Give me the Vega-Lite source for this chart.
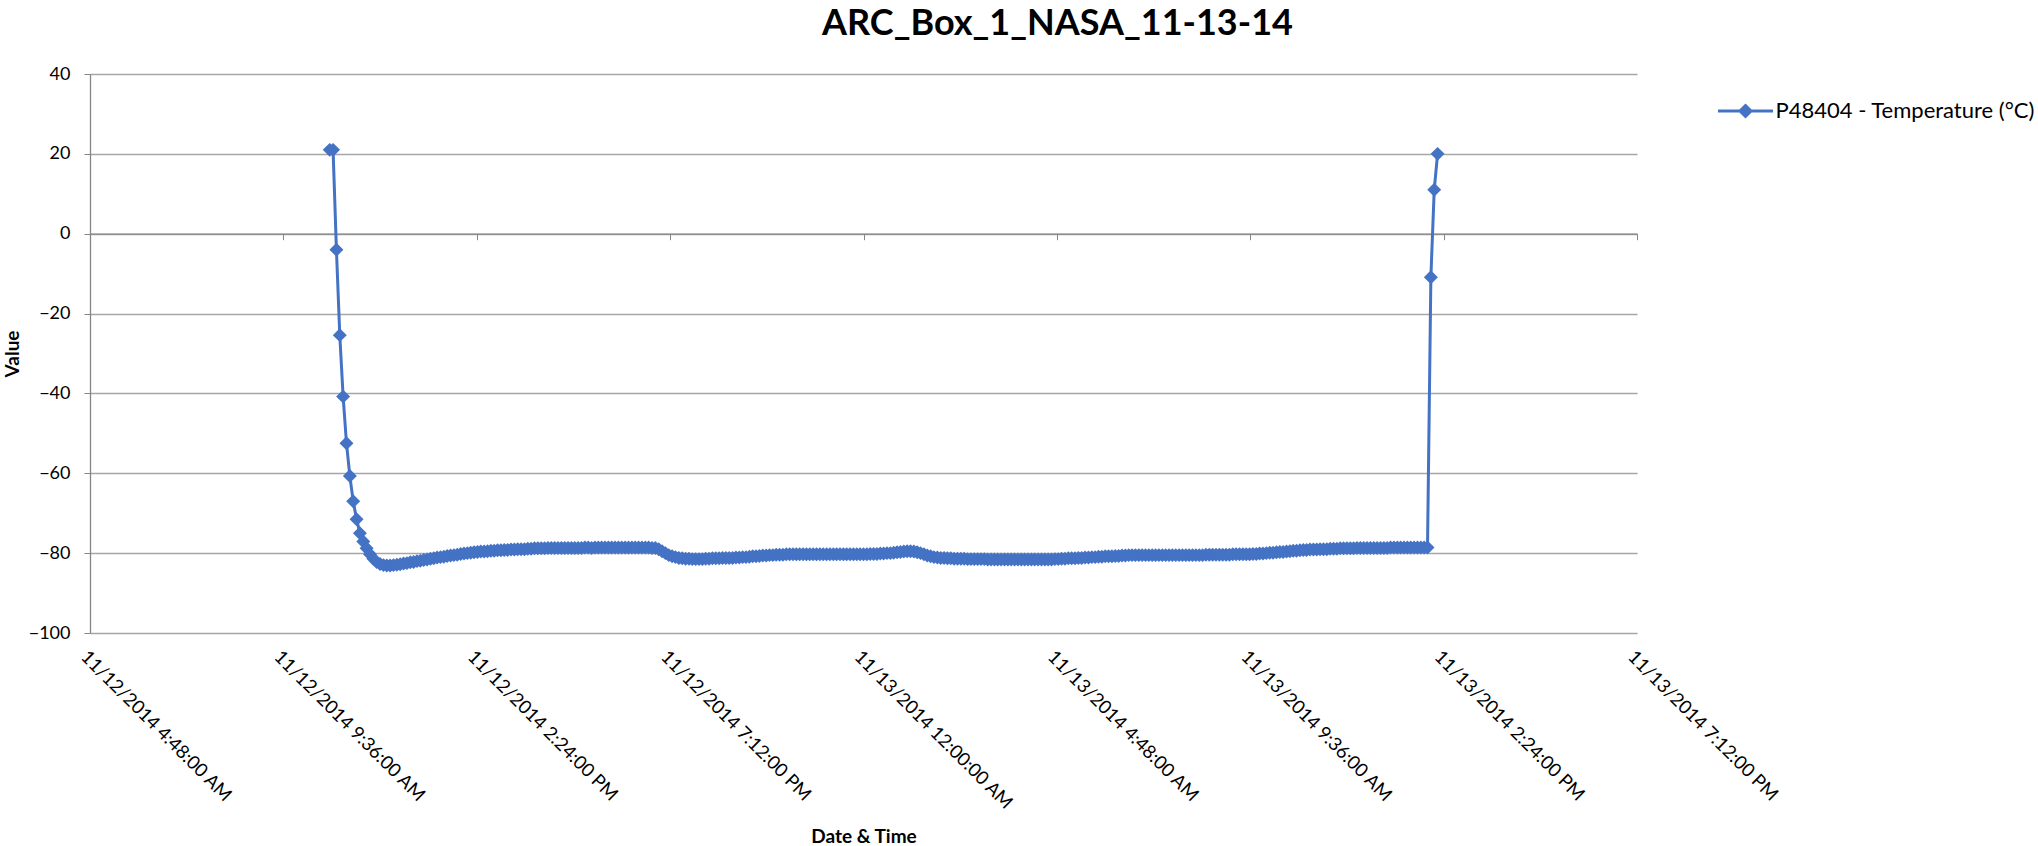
{
"$schema": "https://vega.github.io/schema/vega-lite/v6.json",
"width": 1547, "height": 559,
"autosize": {"type": "none"},
"padding": {"left": 90, "top": 74, "right": 401, "bottom": 213},
"background": "white",
"title": {"text": "ARC_Box_1_NASA_11-13-14", "font": "Lato", "fontSize": 36, "fontWeight": "bold", "color": "#000000", "anchor": "middle", "frame": "group", "dx": 194, "offset": -6, "baseline": "alphabetic"},
"config": {"view": {"stroke": null}},
"data": {"values": [
{"t":"2014-11-12T10:45","v":21.0},{"t":"2014-11-12T10:50","v":21.0},{"t":"2014-11-12T10:55","v":-4.0},
{"t":"2014-11-12T11:00","v":-25.4},{"t":"2014-11-12T11:05","v":-40.8},{"t":"2014-11-12T11:10","v":-52.5},{"t":"2014-11-12T11:15","v":-60.7},{"t":"2014-11-12T11:20","v":-67.0},{"t":"2014-11-12T11:25","v":-71.5},{"t":"2014-11-12T11:30","v":-75.0},{"t":"2014-11-12T11:35","v":-77.1},{"t":"2014-11-12T11:40","v":-78.8},{"t":"2014-11-12T11:45","v":-80.3},{"t":"2014-11-12T11:50","v":-81.4},{"t":"2014-11-12T11:55","v":-82.2},
{"t":"2014-11-12T12:00","v":-82.7},{"t":"2014-11-12T12:05","v":-83.0},{"t":"2014-11-12T12:10","v":-83.1},{"t":"2014-11-12T12:15","v":-83.1},{"t":"2014-11-12T12:20","v":-83.0},{"t":"2014-11-12T12:25","v":-82.9},{"t":"2014-11-12T12:30","v":-82.8},{"t":"2014-11-12T12:35","v":-82.6},{"t":"2014-11-12T12:40","v":-82.5},{"t":"2014-11-12T12:45","v":-82.3},{"t":"2014-11-12T12:50","v":-82.2},{"t":"2014-11-12T12:55","v":-82.0},
{"t":"2014-11-12T13:00","v":-81.9},{"t":"2014-11-12T13:05","v":-81.7},{"t":"2014-11-12T13:10","v":-81.6},{"t":"2014-11-12T13:15","v":-81.4},{"t":"2014-11-12T13:20","v":-81.3},{"t":"2014-11-12T13:25","v":-81.1},{"t":"2014-11-12T13:30","v":-81.0},{"t":"2014-11-12T13:35","v":-80.9},{"t":"2014-11-12T13:40","v":-80.7},{"t":"2014-11-12T13:45","v":-80.6},{"t":"2014-11-12T13:50","v":-80.5},{"t":"2014-11-12T13:55","v":-80.4},
{"t":"2014-11-12T14:00","v":-80.2},{"t":"2014-11-12T14:05","v":-80.1},{"t":"2014-11-12T14:10","v":-80.0},{"t":"2014-11-12T14:15","v":-79.9},{"t":"2014-11-12T14:20","v":-79.8},{"t":"2014-11-12T14:25","v":-79.7},{"t":"2014-11-12T14:30","v":-79.6},{"t":"2014-11-12T14:35","v":-79.6},{"t":"2014-11-12T14:40","v":-79.5},{"t":"2014-11-12T14:45","v":-79.4},{"t":"2014-11-12T14:50","v":-79.4},{"t":"2014-11-12T14:55","v":-79.3},
{"t":"2014-11-12T15:00","v":-79.3},{"t":"2014-11-12T15:05","v":-79.2},{"t":"2014-11-12T15:10","v":-79.2},{"t":"2014-11-12T15:15","v":-79.1},{"t":"2014-11-12T15:20","v":-79.1},{"t":"2014-11-12T15:25","v":-79.0},{"t":"2014-11-12T15:30","v":-79.0},{"t":"2014-11-12T15:35","v":-79.0},{"t":"2014-11-12T15:40","v":-78.9},{"t":"2014-11-12T15:45","v":-78.9},{"t":"2014-11-12T15:50","v":-78.8},{"t":"2014-11-12T15:55","v":-78.8},
{"t":"2014-11-12T16:00","v":-78.8},{"t":"2014-11-12T16:05","v":-78.8},{"t":"2014-11-12T16:10","v":-78.7},{"t":"2014-11-12T16:15","v":-78.7},{"t":"2014-11-12T16:20","v":-78.7},{"t":"2014-11-12T16:25","v":-78.7},{"t":"2014-11-12T16:30","v":-78.7},{"t":"2014-11-12T16:35","v":-78.7},{"t":"2014-11-12T16:40","v":-78.7},{"t":"2014-11-12T16:45","v":-78.7},{"t":"2014-11-12T16:50","v":-78.7},{"t":"2014-11-12T16:55","v":-78.7},
{"t":"2014-11-12T17:00","v":-78.7},{"t":"2014-11-12T17:05","v":-78.6},{"t":"2014-11-12T17:10","v":-78.6},{"t":"2014-11-12T17:15","v":-78.7},{"t":"2014-11-12T17:20","v":-78.6},{"t":"2014-11-12T17:25","v":-78.6},{"t":"2014-11-12T17:30","v":-78.6},{"t":"2014-11-12T17:35","v":-78.6},{"t":"2014-11-12T17:40","v":-78.6},{"t":"2014-11-12T17:45","v":-78.6},{"t":"2014-11-12T17:50","v":-78.6},{"t":"2014-11-12T17:55","v":-78.6},
{"t":"2014-11-12T18:00","v":-78.6},{"t":"2014-11-12T18:05","v":-78.6},{"t":"2014-11-12T18:10","v":-78.6},{"t":"2014-11-12T18:15","v":-78.6},{"t":"2014-11-12T18:20","v":-78.6},{"t":"2014-11-12T18:25","v":-78.6},{"t":"2014-11-12T18:30","v":-78.6},{"t":"2014-11-12T18:35","v":-78.6},{"t":"2014-11-12T18:40","v":-78.6},{"t":"2014-11-12T18:45","v":-78.7},{"t":"2014-11-12T18:50","v":-78.7},{"t":"2014-11-12T18:55","v":-79.0},
{"t":"2014-11-12T19:00","v":-79.5},{"t":"2014-11-12T19:05","v":-80.0},{"t":"2014-11-12T19:10","v":-80.5},{"t":"2014-11-12T19:15","v":-80.8},{"t":"2014-11-12T19:20","v":-81.0},{"t":"2014-11-12T19:25","v":-81.2},{"t":"2014-11-12T19:30","v":-81.3},{"t":"2014-11-12T19:35","v":-81.4},{"t":"2014-11-12T19:40","v":-81.4},{"t":"2014-11-12T19:45","v":-81.5},{"t":"2014-11-12T19:50","v":-81.5},{"t":"2014-11-12T19:55","v":-81.5},
{"t":"2014-11-12T20:00","v":-81.5},{"t":"2014-11-12T20:05","v":-81.4},{"t":"2014-11-12T20:10","v":-81.4},{"t":"2014-11-12T20:15","v":-81.3},{"t":"2014-11-12T20:20","v":-81.3},{"t":"2014-11-12T20:25","v":-81.3},{"t":"2014-11-12T20:30","v":-81.2},{"t":"2014-11-12T20:35","v":-81.2},{"t":"2014-11-12T20:40","v":-81.2},{"t":"2014-11-12T20:45","v":-81.2},{"t":"2014-11-12T20:50","v":-81.1},{"t":"2014-11-12T20:55","v":-81.1},
{"t":"2014-11-12T21:00","v":-81.0},{"t":"2014-11-12T21:05","v":-81.0},{"t":"2014-11-12T21:10","v":-80.9},{"t":"2014-11-12T21:15","v":-80.8},{"t":"2014-11-12T21:20","v":-80.8},{"t":"2014-11-12T21:25","v":-80.7},{"t":"2014-11-12T21:30","v":-80.6},{"t":"2014-11-12T21:35","v":-80.6},{"t":"2014-11-12T21:40","v":-80.5},{"t":"2014-11-12T21:45","v":-80.5},{"t":"2014-11-12T21:50","v":-80.4},{"t":"2014-11-12T21:55","v":-80.4},
{"t":"2014-11-12T22:00","v":-80.4},{"t":"2014-11-12T22:05","v":-80.3},{"t":"2014-11-12T22:10","v":-80.3},{"t":"2014-11-12T22:15","v":-80.3},{"t":"2014-11-12T22:20","v":-80.3},{"t":"2014-11-12T22:25","v":-80.3},{"t":"2014-11-12T22:30","v":-80.3},{"t":"2014-11-12T22:35","v":-80.3},{"t":"2014-11-12T22:40","v":-80.3},{"t":"2014-11-12T22:45","v":-80.3},{"t":"2014-11-12T22:50","v":-80.3},{"t":"2014-11-12T22:55","v":-80.3},
{"t":"2014-11-12T23:00","v":-80.3},{"t":"2014-11-12T23:05","v":-80.3},{"t":"2014-11-12T23:10","v":-80.3},{"t":"2014-11-12T23:15","v":-80.3},{"t":"2014-11-12T23:20","v":-80.3},{"t":"2014-11-12T23:25","v":-80.3},{"t":"2014-11-12T23:30","v":-80.3},{"t":"2014-11-12T23:35","v":-80.3},{"t":"2014-11-12T23:40","v":-80.3},{"t":"2014-11-12T23:45","v":-80.3},{"t":"2014-11-12T23:50","v":-80.3},{"t":"2014-11-12T23:55","v":-80.3},
{"t":"2014-11-13T00:00","v":-80.3},{"t":"2014-11-13T00:05","v":-80.3},{"t":"2014-11-13T00:10","v":-80.2},{"t":"2014-11-13T00:15","v":-80.2},{"t":"2014-11-13T00:20","v":-80.2},{"t":"2014-11-13T00:25","v":-80.1},{"t":"2014-11-13T00:30","v":-80.1},{"t":"2014-11-13T00:35","v":-80.0},{"t":"2014-11-13T00:40","v":-80.0},{"t":"2014-11-13T00:45","v":-79.9},{"t":"2014-11-13T00:50","v":-79.8},{"t":"2014-11-13T00:55","v":-79.7},
{"t":"2014-11-13T01:00","v":-79.6},{"t":"2014-11-13T01:05","v":-79.5},{"t":"2014-11-13T01:10","v":-79.5},{"t":"2014-11-13T01:15","v":-79.6},{"t":"2014-11-13T01:20","v":-79.8},{"t":"2014-11-13T01:25","v":-80.0},{"t":"2014-11-13T01:30","v":-80.3},{"t":"2014-11-13T01:35","v":-80.6},{"t":"2014-11-13T01:40","v":-80.8},{"t":"2014-11-13T01:45","v":-81.0},{"t":"2014-11-13T01:50","v":-81.1},{"t":"2014-11-13T01:55","v":-81.2},
{"t":"2014-11-13T02:00","v":-81.2},{"t":"2014-11-13T02:05","v":-81.3},{"t":"2014-11-13T02:10","v":-81.3},{"t":"2014-11-13T02:15","v":-81.4},{"t":"2014-11-13T02:20","v":-81.4},{"t":"2014-11-13T02:25","v":-81.4},{"t":"2014-11-13T02:30","v":-81.4},{"t":"2014-11-13T02:35","v":-81.5},{"t":"2014-11-13T02:40","v":-81.5},{"t":"2014-11-13T02:45","v":-81.5},{"t":"2014-11-13T02:50","v":-81.5},{"t":"2014-11-13T02:55","v":-81.5},
{"t":"2014-11-13T03:00","v":-81.5},{"t":"2014-11-13T03:05","v":-81.6},{"t":"2014-11-13T03:10","v":-81.6},{"t":"2014-11-13T03:15","v":-81.6},{"t":"2014-11-13T03:20","v":-81.6},{"t":"2014-11-13T03:25","v":-81.6},{"t":"2014-11-13T03:30","v":-81.6},{"t":"2014-11-13T03:35","v":-81.6},{"t":"2014-11-13T03:40","v":-81.6},{"t":"2014-11-13T03:45","v":-81.6},{"t":"2014-11-13T03:50","v":-81.6},{"t":"2014-11-13T03:55","v":-81.6},
{"t":"2014-11-13T04:00","v":-81.6},{"t":"2014-11-13T04:05","v":-81.6},{"t":"2014-11-13T04:10","v":-81.6},{"t":"2014-11-13T04:15","v":-81.6},{"t":"2014-11-13T04:20","v":-81.6},{"t":"2014-11-13T04:25","v":-81.6},{"t":"2014-11-13T04:30","v":-81.6},{"t":"2014-11-13T04:35","v":-81.6},{"t":"2014-11-13T04:40","v":-81.6},{"t":"2014-11-13T04:45","v":-81.5},{"t":"2014-11-13T04:50","v":-81.5},{"t":"2014-11-13T04:55","v":-81.4},
{"t":"2014-11-13T05:00","v":-81.4},{"t":"2014-11-13T05:05","v":-81.3},{"t":"2014-11-13T05:10","v":-81.3},{"t":"2014-11-13T05:15","v":-81.3},{"t":"2014-11-13T05:20","v":-81.2},{"t":"2014-11-13T05:25","v":-81.2},{"t":"2014-11-13T05:30","v":-81.1},{"t":"2014-11-13T05:35","v":-81.1},{"t":"2014-11-13T05:40","v":-81.0},{"t":"2014-11-13T05:45","v":-81.0},{"t":"2014-11-13T05:50","v":-80.9},{"t":"2014-11-13T05:55","v":-80.9},
{"t":"2014-11-13T06:00","v":-80.8},{"t":"2014-11-13T06:05","v":-80.8},{"t":"2014-11-13T06:10","v":-80.8},{"t":"2014-11-13T06:15","v":-80.7},{"t":"2014-11-13T06:20","v":-80.7},{"t":"2014-11-13T06:25","v":-80.6},{"t":"2014-11-13T06:30","v":-80.6},{"t":"2014-11-13T06:35","v":-80.5},{"t":"2014-11-13T06:40","v":-80.5},{"t":"2014-11-13T06:45","v":-80.5},{"t":"2014-11-13T06:50","v":-80.5},{"t":"2014-11-13T06:55","v":-80.5},
{"t":"2014-11-13T07:00","v":-80.5},{"t":"2014-11-13T07:05","v":-80.5},{"t":"2014-11-13T07:10","v":-80.5},{"t":"2014-11-13T07:15","v":-80.5},{"t":"2014-11-13T07:20","v":-80.5},{"t":"2014-11-13T07:25","v":-80.5},{"t":"2014-11-13T07:30","v":-80.5},{"t":"2014-11-13T07:35","v":-80.5},{"t":"2014-11-13T07:40","v":-80.5},{"t":"2014-11-13T07:45","v":-80.5},{"t":"2014-11-13T07:50","v":-80.5},{"t":"2014-11-13T07:55","v":-80.5},
{"t":"2014-11-13T08:00","v":-80.5},{"t":"2014-11-13T08:05","v":-80.5},{"t":"2014-11-13T08:10","v":-80.5},{"t":"2014-11-13T08:15","v":-80.5},{"t":"2014-11-13T08:20","v":-80.5},{"t":"2014-11-13T08:25","v":-80.5},{"t":"2014-11-13T08:30","v":-80.4},{"t":"2014-11-13T08:35","v":-80.4},{"t":"2014-11-13T08:40","v":-80.4},{"t":"2014-11-13T08:45","v":-80.4},{"t":"2014-11-13T08:50","v":-80.4},{"t":"2014-11-13T08:55","v":-80.4},
{"t":"2014-11-13T09:00","v":-80.4},{"t":"2014-11-13T09:05","v":-80.4},{"t":"2014-11-13T09:10","v":-80.3},{"t":"2014-11-13T09:15","v":-80.3},{"t":"2014-11-13T09:20","v":-80.3},{"t":"2014-11-13T09:25","v":-80.3},{"t":"2014-11-13T09:30","v":-80.3},{"t":"2014-11-13T09:35","v":-80.3},{"t":"2014-11-13T09:40","v":-80.2},{"t":"2014-11-13T09:45","v":-80.2},{"t":"2014-11-13T09:50","v":-80.1},{"t":"2014-11-13T09:55","v":-80.1},
{"t":"2014-11-13T10:00","v":-80.0},{"t":"2014-11-13T10:05","v":-79.9},{"t":"2014-11-13T10:10","v":-79.9},{"t":"2014-11-13T10:15","v":-79.8},{"t":"2014-11-13T10:20","v":-79.7},{"t":"2014-11-13T10:25","v":-79.7},{"t":"2014-11-13T10:30","v":-79.6},{"t":"2014-11-13T10:35","v":-79.5},{"t":"2014-11-13T10:40","v":-79.4},{"t":"2014-11-13T10:45","v":-79.4},{"t":"2014-11-13T10:50","v":-79.3},{"t":"2014-11-13T10:55","v":-79.2},
{"t":"2014-11-13T11:00","v":-79.2},{"t":"2014-11-13T11:05","v":-79.1},{"t":"2014-11-13T11:10","v":-79.1},{"t":"2014-11-13T11:15","v":-79.1},{"t":"2014-11-13T11:20","v":-79.0},{"t":"2014-11-13T11:25","v":-79.0},{"t":"2014-11-13T11:30","v":-79.0},{"t":"2014-11-13T11:35","v":-78.9},{"t":"2014-11-13T11:40","v":-78.9},{"t":"2014-11-13T11:45","v":-78.9},{"t":"2014-11-13T11:50","v":-78.8},{"t":"2014-11-13T11:55","v":-78.8},
{"t":"2014-11-13T12:00","v":-78.8},{"t":"2014-11-13T12:05","v":-78.8},{"t":"2014-11-13T12:10","v":-78.8},{"t":"2014-11-13T12:15","v":-78.7},{"t":"2014-11-13T12:20","v":-78.7},{"t":"2014-11-13T12:25","v":-78.7},{"t":"2014-11-13T12:30","v":-78.7},{"t":"2014-11-13T12:35","v":-78.7},{"t":"2014-11-13T12:40","v":-78.7},{"t":"2014-11-13T12:45","v":-78.7},{"t":"2014-11-13T12:50","v":-78.7},{"t":"2014-11-13T12:55","v":-78.7},
{"t":"2014-11-13T13:00","v":-78.7},{"t":"2014-11-13T13:05","v":-78.6},{"t":"2014-11-13T13:10","v":-78.6},{"t":"2014-11-13T13:15","v":-78.6},{"t":"2014-11-13T13:20","v":-78.6},{"t":"2014-11-13T13:25","v":-78.6},{"t":"2014-11-13T13:30","v":-78.6},{"t":"2014-11-13T13:35","v":-78.6},{"t":"2014-11-13T13:40","v":-78.6},{"t":"2014-11-13T13:45","v":-78.6},{"t":"2014-11-13T13:50","v":-78.6},{"t":"2014-11-13T13:55","v":-78.6},
{"t":"2014-11-13T14:00","v":-78.6},{"t":"2014-11-13T14:05","v":-10.9},{"t":"2014-11-13T14:10","v":11.0},{"t":"2014-11-13T14:15","v":20.0}
]},
"layer": [
{
"mark": {"type": "line", "strokeWidth": 3},
"encoding": {
"x": {"field": "t", "type": "temporal", "title": "Date & Time",
"scale": {"domain": [{"year": 2014, "month": 11, "date": 12, "hours": 4, "minutes": 48}, {"year": 2014, "month": 11, "date": 13, "hours": 19, "minutes": 12}], "nice": false},
"axis": {"orient": "bottom", "values": [
{"year": 2014, "month": 11, "date": 12, "hours": 4, "minutes": 48},
{"year": 2014, "month": 11, "date": 12, "hours": 9, "minutes": 36},
{"year": 2014, "month": 11, "date": 12, "hours": 14, "minutes": 24},
{"year": 2014, "month": 11, "date": 12, "hours": 19, "minutes": 12},
{"year": 2014, "month": 11, "date": 13, "hours": 0, "minutes": 0},
{"year": 2014, "month": 11, "date": 13, "hours": 4, "minutes": 48},
{"year": 2014, "month": 11, "date": 13, "hours": 9, "minutes": 36},
{"year": 2014, "month": 11, "date": 13, "hours": 14, "minutes": 24},
{"year": 2014, "month": 11, "date": 13, "hours": 19, "minutes": 12}],
"format": "%m/%d/%Y %-I:%M:%S %p", "labelAngle": 45, "labelAlign": "left", "labelBaseline": "top", "labelPadding": 14,
"labelFont": "Lato", "labelFontSize": 18.5, "labelColor": "#000000", "labelOverlap": false, "labelFlush": false, "labelBound": false, "labelLimit": 0,
"domain": false, "ticks": false, "grid": false,
"titleFont": "Lato", "titleFontSize": 19, "titleFontWeight": "bold", "titleColor": "#000000", "titleBaseline": "alphabetic", "titleY": 209}},
"y": {"field": "v", "type": "quantitative", "title": "Value",
"scale": {"domain": [-100, 40], "nice": false, "zero": false},
"axis": {"values": [-100, -80, -60, -40, -20, 0, 20, 40], "grid": true, "gridColor": "#a6a6a6", "gridWidth": 1.3,
"domainColor": "#868686", "domainWidth": 1.3, "tickColor": "#868686", "tickSize": 6, "labelPadding": 14,
"labelFont": "Lato", "labelFontSize": 18, "labelColor": "#000000",
"titleFont": "Lato", "titleFontSize": 19, "titleFontWeight": "bold", "titleColor": "#000000", "titleBaseline": "alphabetic", "titleX": -72, "titleY": 279.5}},
"color": {"datum": "P48404 - Temperature (°C)", "type": "nominal", "scale": {"range": ["#4472C4"]},
"legend": {"orient": "none", "legendX": 1626.5, "legendY": 8, "title": null, "padding": 0,
"symbolType": "M-1,0L1,0M0,-0.2L0.2,0L0,0.2L-0.2,0Z", "symbolSize": 3025, "symbolStrokeWidth": 3,
"labelFont": "Lato", "labelFontSize": 22, "labelColor": "#000000", "labelOffset": 1, "labelLimit": 0,
"encode": {"symbols": {"update": {"fill": {"value": "#4472C4"}, "stroke": {"value": "#4472C4"}, "opacity": {"value": 1}}}}}}
}
},
{
"mark": {"type": "point", "shape": "diamond", "filled": true, "size": 195, "color": "#4472C4", "opacity": 1},
"encoding": {
"x": {"field": "t", "type": "temporal",
"axis": {"orient": "bottom", "offset": -399.3, "labels": false, "title": null, "grid": false, "domain": true, "domainColor": "#868686", "domainWidth": 1.3, "ticks": true, "tickColor": "#868686", "tickSize": 6,
"values": [
{"year": 2014, "month": 11, "date": 12, "hours": 4, "minutes": 48},
{"year": 2014, "month": 11, "date": 12, "hours": 9, "minutes": 36},
{"year": 2014, "month": 11, "date": 12, "hours": 14, "minutes": 24},
{"year": 2014, "month": 11, "date": 12, "hours": 19, "minutes": 12},
{"year": 2014, "month": 11, "date": 13, "hours": 0, "minutes": 0},
{"year": 2014, "month": 11, "date": 13, "hours": 4, "minutes": 48},
{"year": 2014, "month": 11, "date": 13, "hours": 9, "minutes": 36},
{"year": 2014, "month": 11, "date": 13, "hours": 14, "minutes": 24},
{"year": 2014, "month": 11, "date": 13, "hours": 19, "minutes": 12}]}},
"y": {"field": "v", "type": "quantitative"}
}
}
],
"resolve": {"axis": {"x": "independent"}}
}
